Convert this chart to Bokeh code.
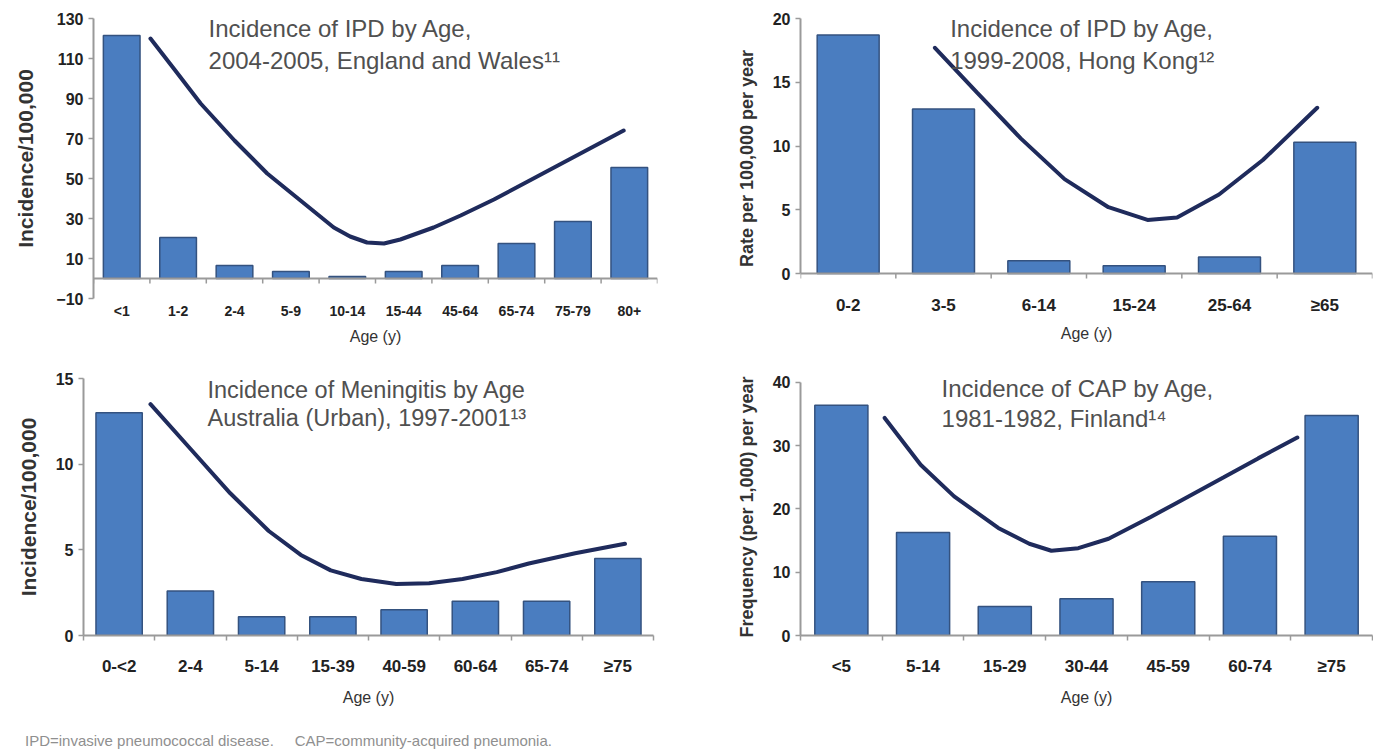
from bokeh.plotting import figure
from bokeh.models import ColumnDataSource, FixedTicker, Label, Div, Range1d, Span
from bokeh.layouts import column, row
from bokeh.embed import file_html
from bokeh.resources import INLINE

# ---------------- data ----------------
ew_ages = ["<1", "1-2", "2-4", "5-9", "10-14", "15-44", "45-64", "65-74", "75-79", "80+"]
ew_rate = [121.5, 20.5, 6.5, 3.5, 1.0, 3.5, 6.5, 17.5, 28.5, 55.5]
ew_trend_x = [0.51, 0.95, 1.40, 2.0, 2.58, 3.17, 3.76, 4.05, 4.35, 4.65, 4.94, 5.53, 6.01, 6.6, 7.2, 7.8, 8.4, 8.9]
ew_trend_y = [120, 104, 87.5, 69, 52.5, 39, 25.5, 21, 18, 17.5, 19.5, 25.5, 31.5, 39.5, 48.5, 57.5, 66.5, 74]
ew_ticks = [-10, 10, 30, 50, 70, 90, 110, 130]

hk_ages = ["0-2", "3-5", "6-14", "15-24", "25-64", "\u226565"]
hk_rate = [18.7, 12.9, 1.0, 0.6, 1.3, 10.3]
hk_trend_x = [0.91, 1.35, 1.81, 2.27, 2.73, 3.14, 3.45, 3.89, 4.35, 4.92]
hk_trend_y = [17.7, 14.2, 10.6, 7.4, 5.2, 4.2, 4.4, 6.2, 8.9, 13.0]
hk_ticks = [0, 5, 10, 15, 20]

au_ages = ["0-<2", "2-4", "5-14", "15-39", "40-59", "60-64", "65-74", "\u226575"]
au_rate = [13.0, 2.6, 1.1, 1.1, 1.5, 2.0, 2.0, 4.5]
au_trend_x = [0.44, 1.0, 1.56, 2.1, 2.55, 2.97, 3.4, 3.89, 4.35, 4.82, 5.3, 5.75, 6.4, 7.1]
au_trend_y = [13.5, 10.9, 8.3, 6.1, 4.7, 3.8, 3.3, 3.0, 3.05, 3.3, 3.7, 4.2, 4.8, 5.35]
au_ticks = [0, 5, 10, 15]

fi_ages = ["<5", "5-14", "15-29", "30-44", "45-59", "60-74", "\u226575"]
fi_rate = [36.4, 16.3, 4.6, 5.8, 8.5, 15.7, 34.8]
fi_trend_x = [0.53, 0.97, 1.38, 1.92, 2.3, 2.57, 2.9, 3.27, 3.78, 4.08, 4.68, 5.1, 5.58]
fi_trend_y = [34.4, 27, 22, 17, 14.5, 13.4, 13.8, 15.3, 18.7, 20.8, 25, 28, 31.3]
fi_ticks = [0, 10, 20, 30, 40]

ew_title = ["Incidence of IPD by Age,", "2004-2005, England and Wales\u00b9\u00b9"]
hk_title = ["Incidence of IPD by Age,", "1999-2008, Hong Kong\u00b9\u00b2"]
au_title = ["Incidence of Meningitis by Age", "Australia (Urban), 1997-2001\u00b9\u00b3"]
fi_title = ["Incidence of CAP by Age,", "1981-1982, Finland\u00b9\u2074"]

x_title = "Age (y)"
footnote = "IPD=invasive pneumococcal disease.\u00a0\u00a0\u00a0\u00a0\u00a0CAP=community-acquired pneumonia."

# ---------------- styles ----------------
FONT = "Liberation Sans"
BAR_FILL = "#4a7dc0"
BAR_LINE = "#34527f"
CURVE = "#1f2b5c"
AXIS = "#9a9a9a"


def panel(cats, vals, tx, ty, yticks, yrange, ylabel, title, tpos, size, borders,
          xfont, ylab_font, ylab_standoff, title_font,
          zero_inside=False, xlab_standoff=16, xtitle_standoff=10):
    n = len(cats)
    w, h = size
    bl, br, bt, bb = borders
    lo, hi = yrange
    frame_h = h - bt - bb
    p = figure(width=w, height=h, output_backend="svg", toolbar_location=None,
               x_range=Range1d(-0.5, n - 0.5), y_range=Range1d(lo, hi),
               min_border_left=bl, min_border_right=br,
               min_border_top=bt, min_border_bottom=bb)
    p.xgrid.visible = False
    p.ygrid.visible = False
    p.outline_line_color = None
    p.background_fill_color = "white"

    src = ColumnDataSource(dict(x=list(range(n)), top=vals))
    p.vbar(x="x", top="top", width=0.65, bottom=0, source=src,
           fill_color=BAR_FILL, line_color=BAR_LINE, line_width=1.5)
    p.line(tx, ty, line_color=CURVE, line_width=4, line_cap="round")

    bounds = [i - 0.5 for i in range(n + 1)]
    # x axis
    xa = p.xaxis[0]
    xa.ticker = FixedTicker(ticks=list(range(n)), minor_ticks=bounds)
    xa.major_label_overrides = {i: c for i, c in enumerate(cats)}
    xa.major_tick_line_color = None
    xa.major_tick_out = 0
    xa.major_tick_in = 0
    xa.major_label_text_font = FONT
    xa.major_label_text_font_style = "bold"
    xa.major_label_text_font_size = xfont
    xa.major_label_text_color = "#222222"
    xa.major_label_standoff = xlab_standoff
    xa.axis_label = x_title
    xa.axis_label_text_font = FONT
    xa.axis_label_text_font_style = "normal"
    xa.axis_label_text_font_size = "16px"
    xa.axis_label_text_color = "#333333"
    xa.axis_label_standoff = xtitle_standoff
    if zero_inside:
        # category axis crosses the value axis at zero; labels stay at the bottom
        xa.axis_line_color = None
        xa.minor_tick_line_color = None
        p.add_layout(Span(location=0, dimension="width", line_color=AXIS, line_width=2))
        tick_depth = 5.0 * (hi - lo) / frame_h
        p.segment(x0=bounds, x1=bounds, y0=[0] * len(bounds),
                  y1=[-tick_depth] * len(bounds), line_color=AXIS, line_width=1.5)
    else:
        xa.axis_line_color = AXIS
        xa.axis_line_width = 2
        xa.minor_tick_line_color = AXIS
        xa.minor_tick_line_width = 1.5
        xa.minor_tick_out = 5
        xa.minor_tick_in = 0

    # y axis
    ya = p.yaxis[0]
    ya.ticker = FixedTicker(ticks=yticks)
    ya.bounds = (yticks[0], yticks[-1])
    ya.axis_line_color = AXIS
    ya.axis_line_width = 2
    ya.major_tick_line_color = AXIS
    ya.major_tick_line_width = 1.5
    ya.major_tick_out = 5
    ya.major_tick_in = 0
    ya.minor_tick_line_color = None
    ya.major_label_text_font = FONT
    ya.major_label_text_font_style = "bold"
    ya.major_label_text_font_size = "16px"
    ya.major_label_text_color = "#222222"
    ya.major_label_standoff = 5
    ya.axis_label = ylabel
    ya.axis_label_text_font = FONT
    ya.axis_label_text_font_style = "bold"
    ya.axis_label_text_font_size = ylab_font
    ya.axis_label_text_color = "#333333"
    ya.axis_label_standoff = ylab_standoff

    tx0, ty1, ty2 = tpos
    for txt, yy in zip(title, (ty1, ty2)):
        p.add_layout(Label(x=tx0, y=yy, text=txt, text_font=FONT,
                           text_font_size=title_font, text_color="#505050",
                           text_align="left", text_baseline="middle"))
    return p


# row 1: shared frame 18..298 px ; row 2: shared frame 378..635 px
p1 = panel(ew_ages, ew_rate, ew_trend_x, ew_trend_y, ew_ticks, (-10, 130),
           "Incidence/100,000", ew_title, (1.54, 125, 109),
           (700, 355), (93, 43, 18, 57), "14px", "21px", 16, "24px",
           zero_inside=True, xlab_standoff=0, xtitle_standoff=6)
p2 = panel(hk_ages, hk_rate, hk_trend_x, hk_trend_y, hk_ticks, (-1.96, 20),
           "Rate per 100,000 per year", hk_title, (1.07, 19.2, 16.7),
           (673, 355), (100, 1, 18, 57), "17px", "18px", 13, "24px",
           zero_inside=True, xlab_standoff=-7, xtitle_standoff=7)
p3 = panel(au_ages, au_rate, au_trend_x, au_trend_y, au_ticks, (0, 15),
           "Incidence/100,000", au_title, (1.24, 14.3, 12.7),
           (700, 358), (83, 47, 23, 78), "17px", "21px", 13, "23.5px")
p4 = panel(fi_ages, fi_rate, fi_trend_x, fi_trend_y, fi_ticks, (0, 40.63),
           "Frequency (per 1,000) per year", fi_title, (1.226, 39.05, 34.3),
           (673, 358), (100, 1, 23, 78), "17px", "18px", 13, "24px")

note = Div(text=footnote, width=1373, height=36,
           styles={"font-family": FONT, "font-size": "15px", "color": "#8f8f8f",
                   "padding-left": "20px", "padding-top": "12px"})

layout = column(row(p1, p2), row(p3, p4), note)
open("out.html", "w").write(file_html(layout, INLINE))
